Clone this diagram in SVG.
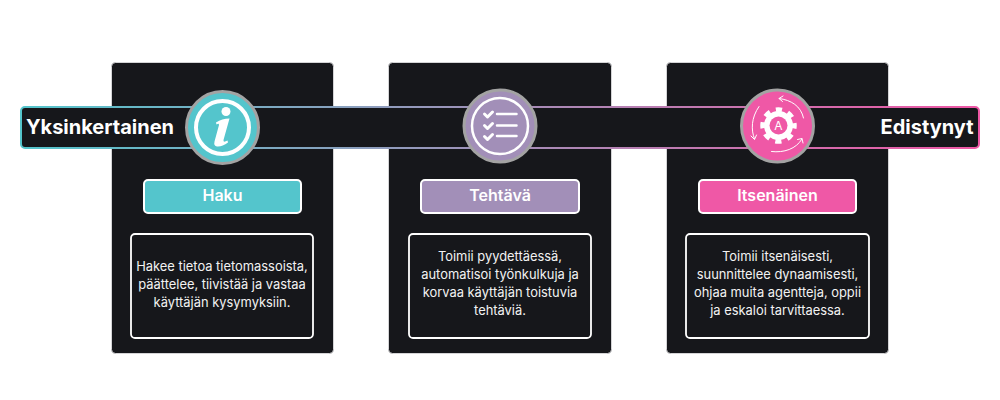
<svg xmlns="http://www.w3.org/2000/svg" width="1000" height="400" viewBox="0 0 1000 400">
<style>
.card{fill:#16171b;stroke:#d4d4d6;stroke-width:1}
.desc{fill:#16171b;stroke:#fff;stroke-width:1.8}
.tag{stroke:#fff;stroke-width:2}
.ring{stroke:#a3a3a3;stroke-width:3}
.ic{fill:none;stroke:#fff;stroke-linecap:round;stroke-linejoin:round}
text{font-family:Inter,"Liberation Sans",sans-serif;text-anchor:middle}
.big{font-size:20px;font-weight:700;fill:#fff}
.lab{font-size:16px;font-weight:600;fill:#fff}
.txt{font-size:12.9px;fill:#f2f2f2}
</style>
<defs>
<linearGradient id="g" gradientUnits="userSpaceOnUse" x1="21" y1="0" x2="979" y2="0">
<stop offset="0" stop-color="#54c5cc"/><stop offset="0.5" stop-color="#a28fb8"/><stop offset="1" stop-color="#ef58a6"/>
</linearGradient>
</defs>
<rect width="1000" height="400" fill="#fff"/>
<g id="card-haku"><rect class="card" x="111.500" y="62.500" width="222" height="291" rx="4"/></g>
<g id="card-tehtava"><rect class="card" x="388.500" y="62.500" width="223" height="291" rx="4"/></g>
<g id="card-itsenainen"><rect class="card" x="666.500" y="62.500" width="222" height="291" rx="4"/></g>
<g id="connectors"><rect x="21" y="107" width="958" height="41" rx="4" fill="#16171b" stroke="url(#g)" stroke-width="2"/></g>
<g id="end-simple"><text class="big" x="100" y="134">Yksinkertainen</text></g>
<g id="end-advanced"><text class="big" x="927" y="134">Edistynyt</text></g>

<g id="icon-info">
<circle class="ring" cx="222.500" cy="127.500" r="36" fill="#54c5cc"/>
<circle cx="222.500" cy="127.500" r="26.500" fill="none" stroke="#fff" stroke-width="4"/>
<circle cx="226" cy="111.500" r="4.500" fill="#fff"/>
<path d="M216 122.500 Q222 118.500 229.500 118.500 L223.500 140 Q223 143 227.500 140.500 L228 142.500 Q222 147 217 146.500 Q213.500 146 214.500 141.500 L219 125 Q219 123 216.500 124.500Z" fill="#fff"/>
</g>
<g id="icon-list">
<circle class="ring" cx="500" cy="126" r="36" fill="#a28fb8"/>
<circle cx="500" cy="126" r="28" fill="none" stroke="#fff" stroke-width="2.500"/>
<path class="ic" stroke-width="3" d="M484.500 114l3 3 5-5M484.500 125.500l3 3 5-5M484.500 136.500l3 3 5-5"/>
<path class="ic" stroke-width="2.500" stroke-linecap="butt" d="M497 114h19.500M497 125.500h19.500M497 136h19.500"/>
</g>
<g id="icon-auto">
<circle class="ring" cx="777.500" cy="126" r="36" fill="#ef58a6"/>
<circle cx="778.500" cy="125.500" r="14.500" fill="#fff"/>
<circle cx="778.500" cy="125.500" r="16" fill="none" stroke="#fff" stroke-width="4.500" stroke-dasharray="6.280 6.280" stroke-dashoffset="3.140"/>
<circle cx="778.500" cy="125.500" r="9" fill="#ef58a6"/>
<text x="778.500" y="130" font-size="12" fill="#fff">A</text>
<path class="ic" stroke-width="1" d="M803.500 118C801 106 791 100 779 98.500M783 96l-4 2.500 3.500 3"/>
<path class="ic" stroke-width="1" d="M759 106.500C751 118 751 130 754.500 139M751 136l3.500 3.500 2-4.500"/>
<path class="ic" stroke-width="1" d="M771.500 151.500C784 153 796 149 802 139M797.500 139.500l4.500-1 1 4.500"/>
</g>

<g id="tag-haku"><rect class="tag" x="144" y="180" width="157" height="33" rx="4" fill="#54c5cc"/><text class="lab" x="222.500" y="201">Haku</text></g>
<g id="tag-tehtava"><rect class="tag" x="421" y="180" width="158" height="33" rx="4" fill="#a28fb8"/><text class="lab" x="500" y="201">Tehtävä</text></g>
<g id="tag-itsenainen"><rect class="tag" x="699" y="180" width="157" height="33" rx="4" fill="#ef58a6"/><text class="lab" x="777.500" y="201">Itsenäinen</text></g>

<g id="desc-haku"><rect class="desc" x="131" y="234" width="182" height="104" rx="4"/>
<text class="txt"><tspan x="222" y="271">Hakee tietoa tietomassoista,</tspan><tspan x="222" y="289">päättelee, tiivistää ja vastaa</tspan><tspan x="222" y="307">käyttäjän kysymyksiin.</tspan></text></g>
<g id="desc-tehtava"><rect class="desc" x="409" y="234" width="182" height="104" rx="4"/>
<text class="txt"><tspan x="500" y="261">Toimii pyydettäessä,</tspan><tspan x="500" y="279">automatisoi työnkulkuja ja</tspan><tspan x="500" y="297">korvaa käyttäjän toistuvia</tspan><tspan x="500" y="315">tehtäviä.</tspan></text></g>
<g id="desc-itsenainen"><rect class="desc" x="686" y="234" width="183" height="104" rx="4"/>
<text class="txt"><tspan x="777.500" y="261">Toimii itsenäisesti,</tspan><tspan x="777.500" y="279">suunnittelee dynaamisesti,</tspan><tspan x="777.500" y="297">ohjaa muita agentteja, oppii</tspan><tspan x="777.500" y="315">ja eskaloi tarvittaessa.</tspan></text></g>
</svg>
